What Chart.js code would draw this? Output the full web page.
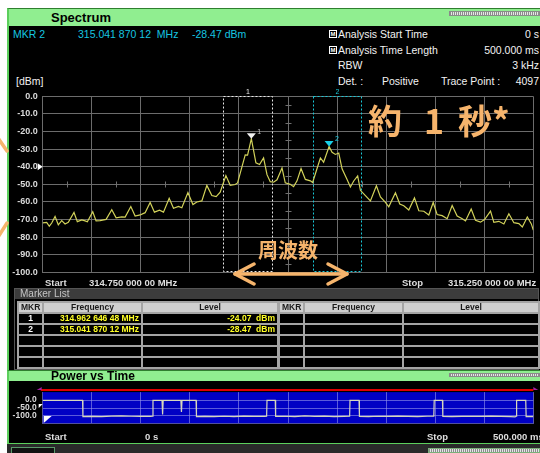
<!DOCTYPE html>
<html lang="ja">
<head>
<meta charset="utf-8">
<title>Spectrum / Power vs Time</title>
<script src="https://cdn.jsdelivr.net/npm/chart.js@4.4.1/dist/chart.umd.min.js"></script>
<style>
  html, body { margin: 0; padding: 0; }
  body { width: 540px; height: 453px; overflow: hidden; background: #fff; position: relative;
         font-family: "Liberation Sans", Arial, sans-serif; }
  .abs { position: absolute; white-space: pre; }
  .panel { background: #000; border-left: 2px solid #5ccf5c; border-top: 1px solid #2f7f2f; }
  .title-bar { background: #90ee90; }
  .title-bar span { position: absolute; left: 42px; top: 1px; font-weight: bold; font-size: 13px; color: #000; }
  .busy { background: repeating-linear-gradient(90deg, #8c8c8c 0 1px, #e6e6e6 1px 2px); border: 1px solid #8a8a8a; box-sizing: border-box; }
  .info { color: #f2f2f2; font-size: 10.5px; line-height: 12px; }
  .mkr { color: #16c6e0; font-size: 10.5px; line-height: 12px; }
  .lbl { color: #dedede; font-size: 9.5px; font-weight: bold; line-height: 12px; }
  .icon { width: 6px; height: 6px; border: 1px solid #fff; background: #000; color: #fff;
          font-size: 6px; line-height: 6px; text-align: center; font-weight: bold; }
  .mlist { border-collapse: collapse; table-layout: fixed; width: 260px; }
  .mlist th, .mlist td { border: 2px solid #a4a4a4; height: 9px; padding: 0 2px; font-size: 8.5px;
                         line-height: 9px; overflow: hidden; white-space: pre; }
  .mlist th { background: #cfcfcf; color: #1a1a1a; font-weight: bold; text-align: center; }
  .mlist td { background: #000; color: #ffff24; font-weight: bold; text-align: right;
              font-family: "Liberation Sans Narrow", "Liberation Sans", sans-serif; }
  .mlist td.n { color: #fff; text-align: center; }
  .jp { color: #f6b46c; font-family: "Noto Sans CJK JP", sans-serif; font-weight: 700; line-height: 1; }
</style>
</head>
<body>

<!-- spectrum panel -->
<div class="abs panel" style="left:7px;top:8px;width:533px;height:362px;"></div>
<div class="abs title-bar" style="left:9px;top:9px;width:531px;height:17px;"><span>Spectrum</span></div>
<div class="abs busy" style="left:449px;top:11px;width:91px;height:5px;"></div>

<div class="abs mkr" id="mkrName" style="left:13px;top:28px;"></div>
<div class="abs mkr" id="mkrFreq" style="left:78px;top:28px;"></div>
<div class="abs mkr" id="mkrLevel" style="left:192px;top:28px;"></div>

<div class="abs icon" style="left:329px;top:30px;">M</div>
<div class="abs info" style="left:338px;top:28px;">Analysis Start Time</div>
<div class="abs info" id="startTime" style="right:1px;top:28px;"></div>
<div class="abs icon" style="left:329px;top:46px;">M</div>
<div class="abs info" style="left:338px;top:44px;">Analysis Time Length</div>
<div class="abs info" id="timeLength" style="right:1px;top:44px;"></div>
<div class="abs info" style="left:338px;top:59px;">RBW</div>
<div class="abs info" style="right:1px;top:59px;">3 kHz</div>
<div class="abs info" style="left:338px;top:75px;">Det. :</div>
<div class="abs info" style="left:382px;top:75px;">Positive</div>
<div class="abs info" style="left:441px;top:75px;">Trace Point :</div>
<div class="abs info" style="right:1px;top:75px;">4097</div>
<div class="abs info" style="left:16px;top:75px;">[dBm]</div>

<canvas id="spec" class="abs" style="left:8px;top:86px;" width="532" height="200"></canvas>

<div class="abs lbl" style="left:45px;top:277px;">Start</div>
<div class="abs lbl" id="startFreq" style="left:89px;top:277px;"></div>
<div class="abs lbl" style="left:402px;top:277px;">Stop</div>
<div class="abs lbl" id="stopFreq" style="left:448px;top:277px;"></div>

<!-- marker list -->
<div class="abs" style="left:14px;top:288px;width:523px;height:80px;border:1px solid #555;"></div>
<div class="abs" style="left:15px;top:289px;width:523px;height:10px;background:#3c3c3c;color:#c4c4c4;font-size:10px;line-height:10px;padding-left:5px;box-sizing:border-box;">Marker List</div>
<table class="abs mlist" id="mlistL" style="left:17px;top:301px;">
  <colgroup><col style="width:25px"><col style="width:99px"><col style="width:136px"></colgroup>
  <tr><th>MKR</th><th>Frequency</th><th>Level</th></tr>
</table>
<table class="abs mlist" id="mlistR" style="left:278px;top:301px;">
  <colgroup><col style="width:25px"><col style="width:99px"><col style="width:136px"></colgroup>
  <tr><th>MKR</th><th>Frequency</th><th>Level</th></tr>
</table>

<!-- power vs time panel -->
<div class="abs panel" style="left:7px;top:370px;width:533px;height:72px;border-bottom:2px solid #5ccf5c;"></div>
<div class="abs title-bar" style="left:9px;top:371px;width:531px;height:10px;"><span style="top:-2px;font-size:12px;">Power vs Time</span></div>
<div class="abs busy" style="left:449px;top:373px;width:91px;height:4px;"></div>
<canvas id="pvt" class="abs" style="left:8px;top:381px;" width="532" height="54"></canvas>
<div class="abs lbl" style="left:45px;top:431px;">Start</div>
<div class="abs lbl" id="pvtStart" style="left:145px;top:431px;"></div>
<div class="abs lbl" style="left:427px;top:431px;">Stop</div>
<div class="abs lbl" id="pvtStop" style="left:493px;top:431px;"></div>

<!-- soft-key strip -->
<div class="abs" style="left:7px;top:444px;width:533px;height:9px;background:#2a2a2a;"></div>
<div class="abs" style="left:11px;top:447px;width:42px;height:8px;border:1px solid #5a9a6a;background:#111;"></div>
<div class="abs busy" style="left:428px;top:448px;width:112px;height:5px;border-color:#7ab07a;"></div>

<!-- orange notes -->
<svg class="abs" style="left:0;top:0;" width="540" height="453">
  <g stroke="#f5b46c" stroke-width="3.5" stroke-linecap="round" stroke-linejoin="round" fill="none">
    <line x1="235" y1="274" x2="347" y2="274"/>
    <polyline points="254,264 235,274 254,284"/>
    <polyline points="328,264 347,274 328,284"/>
    <line x1="-2" y1="138" x2="7" y2="151"/>
    <line x1="7" y1="223" x2="-2" y2="237"/>
  </g>
</svg>
<div class="abs jp" style="left:368px;top:101px;font-size:34px;">約<span style="margin-left:22px">1</span><span style="margin-left:14px">秒</span><span style="font-size:35px;">*</span></div>
<div class="abs jp" style="left:258px;top:240px;font-size:20px;">周波数</div>

<script>
// sweep 314.750 MHz .. 315.250 MHz, trace offsets in kHz from start
const startFreqMHz = 314.75;
const spanKHz = 500;
const traceOffsetKHz = [
  0, 4.1, 6.7, 9.2, 12.6, 15.9, 19.4, 22.8, 26.1, 31.9, 35.3, 39.8, 43.2, 45.5,
  51.0, 54.4, 58.5, 64.6, 70.4, 74.8, 80.6, 84.0, 89.8, 94.2, 99.3, 104.4,
  109.5, 113.9, 119.0, 123.1, 128.9, 133.3, 138.4, 141.8, 148.0, 153.1, 157.1, 162.2,
  167.3, 172.4, 176.8, 180.9, 186.7, 191.1, 196.2, 198.6, 206.4, 208.8, 212.65, 217.3,
  221.0, 225.1, 228.6, 231.9, 235.3, 238.8, 243.9, 247.2, 252.3, 255.7, 259.2, 263.3,
  267.7, 272.8, 275.1, 279.6, 283.0, 286.3, 291.87, 294.9, 298.3, 301.7, 305.1, 310.2,
  313.6, 317.0, 321.0, 323.8, 328.9, 334.0, 340.1, 344.2, 349.3, 352.7, 359.5, 363.9,
  368.0, 373.1, 378.9, 383.3, 388.4, 393.5, 398.0, 402.0, 407.1, 412.2, 417.3, 422.4,
  427.6, 430.9, 436.7, 441.1, 446.2, 450.3, 456.4, 459.8, 464.9, 470.0, 475.1, 480.2,
  485.3, 488.8, 493.9, 498.0, 500.0
];
const traceLevel = [
  -71.9, -71.6, -73.8, -72.0, -68.2, -73.0, -70.6, -72.5, -71.6, -66.0, -71.2, -70.2, -70.8, -71.3,
  -65.6, -70.8, -70.6, -69.9, -64.4, -69.0, -68.5, -68.6, -62.6, -68.0, -67.4, -66.1,
  -60.3, -65.8, -64.7, -65.8, -57.9, -63.6, -62.5, -63.3, -54.7, -61.5, -60.0, -59.4,
  -50.6, -56.4, -57.0, -54.5, -45.0, -50.5, -50.1, -49.2, -33.2, -33.4, -24.07, -37.8,
  -38.7, -35.0, -44.5, -48.5, -48.8, -47.4, -40.7, -49.1, -50.0, -51.3, -48.0, -41.0,
  -47.2, -48.0, -48.9, -41.0, -35.0, -37.4, -28.47, -31.8, -33.0, -32.2, -41.2, -47.2,
  -51.5, -48.1, -45.2, -53.4, -56.4, -59.4, -50.8, -57.2, -60.3, -62.8, -54.8, -61.2,
  -62.2, -64.6, -57.7, -65.0, -65.3, -67.4, -60.3, -67.2, -67.8, -69.5, -62.0, -68.0,
  -69.6, -70.8, -64.0, -70.4, -71.5, -70.0, -65.2, -71.6, -71.0, -72.5, -66.7, -71.8,
  -72.3, -74.2, -68.6, -72.5, -76.0
];
const levelTicks = [0, -10, -20, -30, -40, -50, -60, -70, -80, -90, -100];
const refLevel = -40;

const markerFreqMHz = [314.96264648, 315.04187012];
const markerLevel = [-24.07, -28.47];
const markerBoxKHz = [[184, 234], [275, 324]];
const activeMarker = 1;

// power vs time, 0 .. 500 ms
const pvtLengthMs = 500;
const pvtTimeMs = [
  0, 40.6, 41.0, 50, 60, 70, 80, 90, 100, 110, 112.0,
  112.4, 121.6, 122.2, 122.8, 140.8, 141.4, 142.0, 156.3,
  156.7, 165, 175, 185, 195, 205, 215, 226, 228.2,
  228.6, 237.0,
  237.4, 247, 257, 267, 277, 287, 297, 307, 312.8,
  313.2, 322.4,
  322.8, 332, 342, 352, 362, 372, 382, 392, 398.6,
  399.0, 407.4,
  407.8, 417, 427, 437, 447, 457, 467, 477, 481.5, 482.6,
  483.0, 492.3,
  492.7, 500
];
const pvtLevel = [
  -2, -2, -104, -103, -104, -101, -100, -102, -103, -103, -102,
  -2, -2, -90, -2, -2, -75, -2, -2,
  -104, -103, -104, -102, -104, -101, -103, -103, -102,
  -2, -2,
  -103, -102, -104, -100, -103, -101, -104, -103, -102,
  -2, -2,
  -103, -104, -102, -103, -101, -103, -104, -102, -101,
  -2, -2,
  -103, -104, -103, -102, -103, -101, -103, -104, -106, -101,
  -2, -2,
  -104, -104
];
const pvtTicks = [0, -50, -100];

const boxColors = ['#e8e8e8', '#18c8d8'];
const markerColors = ['#f0f0f0', '#18d0e8'];

function fmtMHz(mhz) {
  const [ip, fp] = mhz.toFixed(8).split('.');
  return ip + '.' + fp.slice(0, 3) + ' ' + fp.slice(3, 6) + ' ' + fp.slice(6);
}

// header, frequency labels, marker table
document.getElementById('mkrName').textContent = 'MKR ' + (activeMarker + 1);
document.getElementById('mkrFreq').textContent = fmtMHz(markerFreqMHz[activeMarker]) + '  MHz';
document.getElementById('mkrLevel').textContent = markerLevel[activeMarker].toFixed(2) + ' dBm';
document.getElementById('startFreq').textContent = fmtMHz(startFreqMHz) + ' MHz';
document.getElementById('stopFreq').textContent = fmtMHz(startFreqMHz + spanKHz / 1000) + ' MHz';
document.getElementById('startTime').textContent = '0 s';
document.getElementById('timeLength').textContent = pvtLengthMs.toFixed(3) + ' ms';
document.getElementById('pvtStart').textContent = '0 s';
document.getElementById('pvtStop').textContent = pvtLengthMs.toFixed(3) + ' ms';

['mlistL', 'mlistR'].forEach((id, t) => {
  const tbl = document.getElementById(id);
  for (let r = 0; r < 5; r++) {
    const tr = document.createElement('tr');
    const has = t === 0 && r < markerFreqMHz.length;
    tr.innerHTML = has
      ? `<td class="n">${r + 1}</td><td>${fmtMHz(markerFreqMHz[r])} MHz</td><td>${markerLevel[r].toFixed(2)}  dBm</td>`
      : '<td class="n"></td><td></td><td></td>';
    tbl.appendChild(tr);
  }
});

Chart.defaults.font.family = '"Liberation Sans", Arial, sans-serif';

const markerOffsetKHz = markerFreqMHz.map(f => (f - startFreqMHz) * 1000);

const specPlot = {
  id: 'specPlot',
  beforeDatasetsDraw(chart) {
    const { ctx, chartArea: a, scales: { x, y } } = chart;
    ctx.save();
    // minor ticks along the centre cross
    ctx.strokeStyle = '#707070';
    ctx.lineWidth = 1;
    const cy = Math.round(y.getPixelForValue(-50)) + 0.5;
    const cx = Math.round(x.getPixelForValue(spanKHz / 2)) + 0.5;
    ctx.beginPath();
    for (let k = 25; k < spanKHz; k += 50) {
      const px = Math.round(x.getPixelForValue(k)) + 0.5;
      ctx.moveTo(px, cy - 3); ctx.lineTo(px, cy + 3);
    }
    for (let v = -5; v > -100; v -= 10) {
      const py = Math.round(y.getPixelForValue(v)) + 0.5;
      ctx.moveTo(cx - 3, py); ctx.lineTo(cx + 3, py);
    }
    ctx.stroke();
    // marker search windows
    markerBoxKHz.forEach((b, i) => {
      const x0 = Math.round(x.getPixelForValue(b[0])) + 0.5;
      const x1 = Math.round(x.getPixelForValue(b[1])) + 0.5;
      ctx.strokeStyle = boxColors[i];
      ctx.setLineDash([2, 2]);
      ctx.strokeRect(x0, Math.round(a.top) + 0.5, x1 - x0, Math.round(a.bottom - a.top) - 1);
      ctx.setLineDash([]);
      ctx.fillStyle = boxColors[i];
      ctx.font = '7px "Liberation Sans"';
      ctx.textAlign = 'center';
      ctx.textBaseline = 'bottom';
      ctx.fillText(String(i + 1), (x0 + x1) / 2, a.top - 1);
    });
    ctx.restore();
  },
  afterDatasetsDraw(chart) {
    const { ctx, chartArea: a, scales: { x, y } } = chart;
    ctx.save();
    markerOffsetKHz.forEach((k, i) => {
      const px = x.getPixelForValue(k);
      const py = y.getPixelForValue(markerLevel[i]);
      ctx.fillStyle = markerColors[i];
      ctx.beginPath();
      ctx.moveTo(px - 4.5, py - 5.5);
      ctx.lineTo(px + 4.5, py - 5.5);
      ctx.lineTo(px, py);
      ctx.closePath();
      ctx.fill();
      ctx.font = '7px "Liberation Sans"';
      ctx.textAlign = 'left';
      ctx.textBaseline = 'middle';
      ctx.fillStyle = i === activeMarker ? markerColors[i] : '#bdbdbd';
      ctx.fillText(String(i + 1), px + 6, py - 7);
    });
    // reference level pointer
    const ry = y.getPixelForValue(refLevel);
    ctx.fillStyle = '#fff';
    ctx.beginPath();
    ctx.moveTo(a.left - 5, ry - 3.5);
    ctx.lineTo(a.left - 5, ry + 3.5);
    ctx.lineTo(a.left, ry);
    ctx.closePath();
    ctx.fill();
    ctx.restore();
  }
};

new Chart(document.getElementById('spec'), {
  type: 'line',
  data: {
    datasets: [{
      data: traceOffsetKHz.map((k, i) => ({ x: k, y: traceLevel[i] })),
      borderColor: '#d2d25a',
      borderWidth: 1.2,
      pointRadius: 0,
      tension: 0
    }]
  },
  options: {
    responsive: false,
    animation: false,
    layout: { padding: { top: 8.3, right: 6.7, bottom: 13.7, left: 0 } },
    plugins: { legend: { display: false }, tooltip: { enabled: false } },
    scales: {
      x: {
        type: 'linear', min: 0, max: spanKHz,
        ticks: { display: false, stepSize: 50 },
        grid: { color: '#6c6c6c', drawTicks: false },
        border: { color: '#6c6c6c' },
        afterFit: s => { s.height = 0; }
      },
      y: {
        min: -100, max: 0,
        afterBuildTicks: s => { s.ticks = levelTicks.map(v => ({ value: v })); },
        ticks: { color: '#dadada', font: { size: 9, weight: 'bold' }, padding: 5, callback: v => v.toFixed(1) },
        grid: { color: '#6c6c6c', drawTicks: false },
        border: { color: '#6c6c6c' },
        afterFit: s => { s.width = 34.7; }
      }
    }
  },
  plugins: [specPlot]
});

const pvtPlot = {
  id: 'pvtPlot',
  beforeDraw(chart) {
    const { ctx, chartArea: a } = chart;
    ctx.save();
    ctx.fillStyle = '#0000c4';
    ctx.fillRect(a.left, a.top, a.right - a.left, a.bottom - a.top);
    ctx.restore();
  },
  afterDraw(chart) {
    const { ctx, chartArea: a } = chart;
    ctx.save();
    // trigger level line across the top
    ctx.strokeStyle = '#e00000';
    ctx.lineWidth = 2;
    ctx.beginPath();
    ctx.moveTo(a.left - 2, a.top - 2);
    ctx.lineTo(a.right, a.top - 2);
    ctx.stroke();
    ctx.fillStyle = '#a020a0';
    ctx.beginPath();
    ctx.moveTo(a.left - 6, a.top - 2); ctx.lineTo(a.left - 1, a.top - 5); ctx.lineTo(a.left - 1, a.top - 2);
    ctx.closePath(); ctx.fill();
    ctx.beginPath();
    ctx.moveTo(a.right + 5, a.top - 2); ctx.lineTo(a.right, a.top - 5); ctx.lineTo(a.right, a.top - 2);
    ctx.closePath(); ctx.fill();
    // level pointers
    ctx.fillStyle = '#fff';
    const my = chart.scales.y.getPixelForValue(-50);
    ctx.beginPath();
    ctx.moveTo(a.left - 4, my - 4); ctx.lineTo(a.left, my - 4); ctx.lineTo(a.left - 4, my);
    ctx.closePath(); ctx.fill();
    ctx.beginPath();
    ctx.moveTo(a.left + 1, a.bottom - 8); ctx.lineTo(a.left + 9, a.bottom - 8); ctx.lineTo(a.left + 1, a.bottom - 1);
    ctx.closePath(); ctx.fill();
    ctx.restore();
  }
};

new Chart(document.getElementById('pvt'), {
  type: 'line',
  data: {
    datasets: [{
      data: pvtTimeMs.map((t, i) => ({ x: t, y: pvtLevel[i] })),
      borderColor: '#d6d6bc',
      borderWidth: 1.2,
      pointRadius: 0,
      tension: 0
    }]
  },
  options: {
    responsive: false,
    animation: false,
    layout: { padding: { top: 6, right: 6.7, bottom: 8, left: 0 } },
    plugins: { legend: { display: false }, tooltip: { enabled: false } },
    scales: {
      x: {
        type: 'linear', min: 0, max: pvtLengthMs,
        ticks: { display: false, stepSize: 50 },
        grid: { color: 'rgba(150,150,235,0.6)', drawTicks: false },
        border: { color: '#5050a0' },
        afterFit: s => { s.height = 0; }
      },
      y: {
        min: -150, max: 50,
        afterBuildTicks: s => { s.ticks = pvtTicks.map(v => ({ value: v })); },
        ticks: { color: '#dadada', font: { size: 8.5, weight: 'bold' }, padding: 6, callback: v => v.toFixed(1) },
        grid: { color: 'rgba(150,150,235,0.6)', drawTicks: false },
        border: { color: '#5050a0' },
        afterFit: s => { s.width = 34.7; }
      }
    }
  },
  plugins: [pvtPlot]
});
</script>
</body>
</html>
